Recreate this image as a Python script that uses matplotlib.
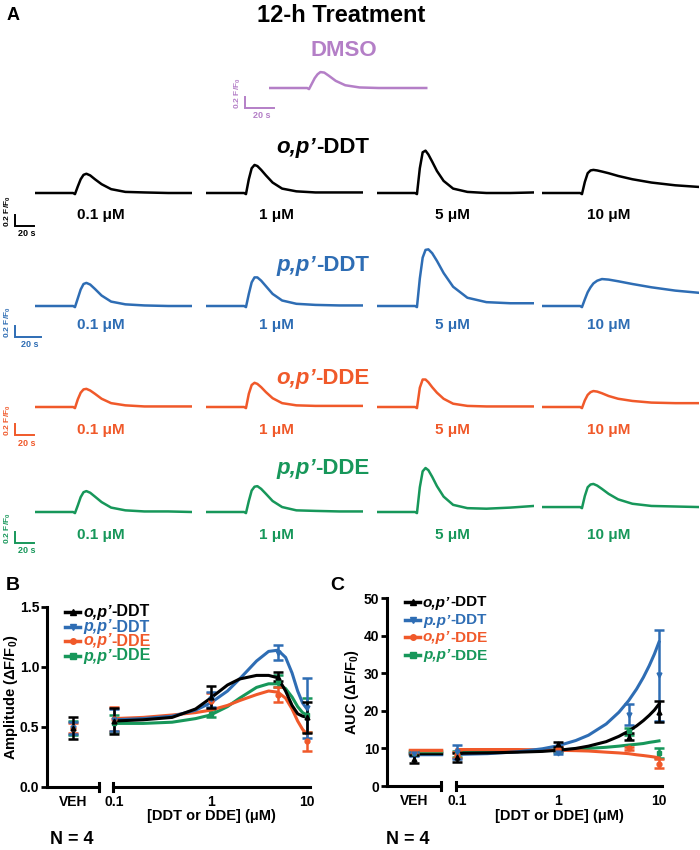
import matplotlib
matplotlib.use("Agg")
import matplotlib.pyplot as plt

plt.rcParams['font.family'] = ['Liberation Sans', 'DejaVu Sans']
plt.rcParams['font.weight'] = 'bold'
plt.rcParams['mathtext.default'] = 'regular'

W, H = 700, 850
fig = plt.figure(figsize=(7, 8.5), dpi=100)

BLACK = '#000000'
BLUE = '#2e6db4'
ORANGE = '#f0592a'
GREEN = '#17975a'
PURPLE = '#b47fc7'

# ---- calcium traces (dF/F0 vs time in s) ----
t_trace = [0, 40, 42, 45, 48, 51, 54, 58, 63, 70, 80, 95, 115, 140, 165]

dmso_trace = [0, 0, -0.02, 0.08, 0.18, 0.25, 0.29, 0.28, 0.22, 0.13, 0.05, 0.01, 0.0, 0.0, 0.0]

opDDT_traces = [
    [0, 0, -0.02, 0.12, 0.25, 0.33, 0.35, 0.32, 0.25, 0.16, 0.07, 0.02, 0.01, 0.0, 0.0],
    [0, 0, -0.02, 0.25, 0.45, 0.51, 0.49, 0.42, 0.32, 0.19, 0.08, 0.03, 0.01, 0.01, 0.01],
    [0, 0, -0.02, 0.45, 0.74, 0.77, 0.70, 0.57, 0.40, 0.22, 0.08, 0.02, 0.0, 0.0, 0.01],
    [0, 0, -0.02, 0.20, 0.36, 0.41, 0.42, 0.41, 0.39, 0.36, 0.31, 0.25, 0.19, 0.14, 0.11],
]
ppDDT_traces = [
    [0, 0, -0.02, 0.14, 0.30, 0.40, 0.42, 0.39, 0.31, 0.19, 0.08, 0.03, 0.01, 0.0, 0.0],
    [0, 0, -0.02, 0.22, 0.43, 0.52, 0.52, 0.46, 0.36, 0.22, 0.10, 0.04, 0.02, 0.01, 0.01],
    [0, 0, -0.02, 0.50, 0.88, 1.02, 1.03, 0.96, 0.82, 0.60, 0.35, 0.15, 0.07, 0.05, 0.05],
    [0, 0, -0.02, 0.12, 0.25, 0.34, 0.41, 0.46, 0.49, 0.48, 0.45, 0.40, 0.34, 0.28, 0.24],
]
opDDE_traces = [
    [0, 0, -0.02, 0.14, 0.26, 0.32, 0.33, 0.30, 0.24, 0.15, 0.07, 0.03, 0.01, 0.01, 0.01],
    [0, 0, -0.02, 0.24, 0.40, 0.44, 0.42, 0.36, 0.27, 0.16, 0.07, 0.03, 0.02, 0.02, 0.02],
    [0, 0, -0.02, 0.35, 0.50, 0.50, 0.45, 0.36, 0.26, 0.15, 0.06, 0.02, 0.01, 0.01, 0.01],
    [0, 0, -0.02, 0.12, 0.22, 0.27, 0.29, 0.28, 0.25, 0.20, 0.15, 0.11, 0.08, 0.07, 0.07],
]
ppDDE_traces = [
    [0, 0, -0.02, 0.12, 0.27, 0.36, 0.38, 0.35, 0.28, 0.18, 0.08, 0.03, 0.01, 0.01, 0.0],
    [0, 0, -0.02, 0.20, 0.39, 0.46, 0.47, 0.42, 0.33, 0.20, 0.09, 0.03, 0.02, 0.01, 0.01],
    [0, 0, -0.02, 0.45, 0.74, 0.80, 0.76, 0.64, 0.47, 0.28, 0.13, 0.07, 0.06, 0.08, 0.11],
    [0.09, 0.09, 0.07, 0.29, 0.45, 0.50, 0.51, 0.48, 0.42, 0.33, 0.23, 0.15, 0.11, 0.10, 0.09],
]
conc_labels = ['0.1 \u03bcM', '1 \u03bcM', '5 \u03bcM', '10 \u03bcM']

# ---- dose-response data ----
conc = [0.1, 1, 5, 10]
fit_x = [0.1, 0.2, 0.4, 0.7, 1, 1.5, 2, 3, 4, 5, 6, 7, 8, 9, 10]

amp_veh = [0.49, 0.49, 0.49, 0.49]
amp_veh_err = [0.09, 0.05, 0.04, 0.06]
amp_opDDT = [0.55, 0.75, 0.92, 0.58]
amp_opDDT_err = [0.11, 0.09, 0.04, 0.13]
amp_ppDDT = [0.56, 0.73, 1.12, 0.66]
amp_ppDDT_err = [0.09, 0.06, 0.06, 0.25]
amp_opDDE = [0.57, 0.72, 0.77, 0.38]
amp_opDDE_err = [0.10, 0.06, 0.06, 0.08]
amp_ppDDE = [0.53, 0.61, 0.88, 0.60]
amp_ppDDE_err = [0.07, 0.03, 0.05, 0.14]
fitB_opDDT = [0.55, 0.56, 0.58, 0.65, 0.74, 0.85, 0.90, 0.93, 0.93, 0.91, 0.80, 0.68, 0.61, 0.59, 0.58]
fitB_ppDDT = [0.56, 0.57, 0.59, 0.64, 0.70, 0.80, 0.90, 1.05, 1.13, 1.14, 1.08, 0.95, 0.80, 0.70, 0.65]
fitB_opDDE = [0.57, 0.58, 0.60, 0.62, 0.64, 0.68, 0.72, 0.77, 0.80, 0.79, 0.74, 0.65, 0.55, 0.48, 0.44]
fitB_ppDDE = [0.53, 0.53, 0.54, 0.57, 0.60, 0.67, 0.74, 0.83, 0.86, 0.86, 0.82, 0.75, 0.67, 0.62, 0.60]

auc_veh = [7.1, 8.5, 9.0, 8.8]
auc_veh_err = [1.1, 0.5, 0.5, 0.5]
auc_opDDT = [7.6, 11.1, 13.1, 19.8]
auc_opDDT_err = [1.1, 0.7, 0.9, 2.7]
auc_ppDDT = [9.0, 8.9, 19.0, 29.4]
auc_ppDDT_err = [1.9, 0.5, 2.9, 12.1]
auc_opDDE = [8.3, 9.8, 10.0, 5.9]
auc_opDDE_err = [0.8, 0.6, 0.5, 1.2]
auc_ppDDE = [8.5, 9.5, 14.5, 8.8]
auc_ppDDE_err = [0.7, 0.5, 0.9, 1.4]
fitC_opDDT = [8.7, 8.8, 9.0, 9.2, 9.5, 10.0, 10.6, 11.8, 13.2, 14.6, 16.0, 17.4, 18.8, 20.2, 21.8]
fitC_ppDDT = [8.4, 8.6, 9.1, 9.9, 10.7, 12.1, 13.5, 16.5, 19.6, 22.7, 25.8, 28.9, 32.0, 35.1, 38.3]
fitC_opDDE = [9.7, 9.7, 9.7, 9.6, 9.5, 9.4, 9.3, 9.0, 8.8, 8.6, 8.3, 8.1, 7.9, 7.7, 7.5]
fitC_ppDDE = [9.3, 9.3, 9.4, 9.5, 9.6, 9.8, 10.0, 10.3, 10.6, 10.9, 11.1, 11.3, 11.6, 11.8, 12.0]

PX = 0.2 / 11.0   # dF/F0 per pixel in the trace panels


def px_axes(x0, y0, x1, y1):
    return fig.add_axes([x0 / W, 1 - y1 / H, (x1 - x0) / W, (y1 - y0) / H])


def trace_row(traces, color, base, starts, width=157, tmax=165):
    axs = []
    for x0, y in zip(starts, traces):
        ax = px_axes(x0, base - 1.25 / PX, x0 + width, base + 0.25 / PX)
        ax.plot(t_trace, y, color=color, lw=1.8)
        ax.set_xlim(0, tmax)
        ax.set_ylim(-0.25, 1.25)
        ax.axis('off')
        axs.append(ax)
    return axs


def scale_bar(ax, color, ybot, x0=-21, xlen=20):
    ax.plot([x0, x0, x0 + xlen], [ybot + 0.2, ybot, ybot], color=color, lw=1.4,
            clip_on=False, solid_joinstyle='miter')
    ax.annotate('0.2 F/F$_0$', (x0, ybot), xytext=(-1.8, -1), textcoords='offset points',
                rotation=90, ha='right', va='bottom', fontsize=6, color=color,
                annotation_clip=False)
    ax.annotate('20 s', (x0 + xlen / 2 + 2, ybot), xytext=(0, -2.5), textcoords='offset points',
                ha='center', va='top', fontsize=6.5, color=color, annotation_clip=False)


renderer = fig.canvas.get_renderer()


def mixed_text(x, ybase, ital, rest, color, size, align='center'):
    a = fig.text(0, 0, ital, fontsize=size, style='italic', color=color, va='baseline')
    b = fig.text(0, 0, rest, fontsize=size, color=color, va='baseline')
    wa = a.get_window_extent(renderer).width
    wb = b.get_window_extent(renderer).width
    x0 = x - (wa + wb) / 2 if align == 'center' else x
    a.set_position((x0 / W, 1 - ybase / H))
    b.set_position(((x0 + wa) / W, 1 - ybase / H))


# ---------------- panel A ----------------
fig.text(13 / W, 1 - 15 / H, 'A', fontsize=13, ha='center', va='center')
fig.text(341 / W, 1 - 15 / H, '12-h Treatment', fontsize=17, ha='center', va='center')
fig.text(344 / W, 1 - 51 / H, 'DMSO', fontsize=16, ha='center', va='center', color=PURPLE)

ax_d = trace_row([dmso_trace], PURPLE, 88, [269], width=162, tmax=170)[0]
scale_bar(ax_d, PURPLE, -0.36, x0=-25, xlen=30)

starts = [35, 206, 377, 542]
rows = [
    (opDDT_traces, BLACK, 193, 'o,p\u2019', '-DDT', 145, -0.60, 215, 20),
    (ppDDT_traces, BLUE, 306, 'p,p\u2019', '-DDT', 263, -0.56, 325, 27),
    (opDDE_traces, ORANGE, 407, 'o,p\u2019', '-DDE', 376, -0.51, 430, 20),
    (ppDDE_traces, GREEN, 512, 'p,p\u2019', '-DDE', 466, -0.56, 535, 20),
]
label_x = [101, 276, 452, 609]
for traces, col, base, ital, rest, ty, sb, ly, bl in rows:
    axs = trace_row(traces, col, base, starts)
    scale_bar(axs[0], col, sb, xlen=bl)
    mixed_text(323, ty + 8, ital, rest, col, 16)
    for lx, lab in zip(label_x, conc_labels):
        fig.text(lx / W, 1 - ly / H, lab, fontsize=11, ha='center', va='center', color=col)


# ---------------- panels B and C ----------------
def dose_panel(left, veh_right, log_left, log_right, top, bottom, xlim_log, ymax, yticks, yticklabels):
    axv = px_axes(left, top, veh_right, bottom)
    axl = px_axes(log_left, top, log_right, bottom)
    axl.set_xscale('log')
    axl.set_xlim(*xlim_log)
    axv.set_xlim(0, 1)
    for a in (axv, axl):
        a.set_ylim(0, ymax)
        a.spines['top'].set_visible(False)
        a.spines['right'].set_visible(False)
        a.spines['bottom'].set_linewidth(2.2)
        a.patch.set_visible(False)
        a.tick_params(axis='x', length=0, labelsize=10, pad=6)
    axl.spines['left'].set_visible(False)
    axl.tick_params(axis='y', left=False, labelleft=False)
    axv.spines['left'].set_linewidth(2.2)
    axv.set_yticks(yticks)
    axv.set_yticklabels(yticklabels)
    axv.tick_params(axis='y', width=2, length=4, labelsize=10, pad=1.5)
    axv.set_xticks([0.5])
    axv.set_xticklabels(['VEH'])
    axl.set_xticks([0.1, 1, 10])
    axl.set_xticklabels(['0.1', '1', '10'])
    axl.minorticks_off()
    c = 4.0 / (bottom - top)
    axv.plot([1, 1], [-c, c], transform=axv.transAxes, color='k', lw=2.2, clip_on=False)
    axl.plot([0, 0], [-c, c], transform=axl.transAxes, color='k', lw=2.2, clip_on=False)
    return axv, axl


def series(axv, axl, veh, veh_err, vals, err, fit, color, marker):
    kw = dict(color=color, ms=3.5, capsize=3.5, elinewidth=1.8, capthick=1.8, clip_on=False)
    axv.errorbar([0.5], [veh], yerr=[veh_err], fmt=marker, **kw)
    axl.plot(fit_x, fit, color=color, lw=2.2, clip_on=False)
    axl.errorbar(conc, vals, yerr=err, fmt=marker, **kw)


def legend(x, ys, labels, colors, markers, size):
    for y, (ital, rest), col, m in zip(ys, labels, colors, markers):
        ln = plt.Line2D([x / W, (x + 15) / W], [1 - y / H, 1 - y / H], color=col, lw=2.5,
                        transform=fig.transFigure)
        fig.add_artist(ln)
        mk = plt.Line2D([(x + 7.5) / W], [1 - y / H], color=col, marker=m, ms=4,
                        transform=fig.transFigure)
        fig.add_artist(mk)
        mixed_text(x + 18, y + 4.5, ital, rest, col, size, align='left')


colors = [GREEN, ORANGE, BLUE, BLACK]
markers = ['s', 'o', 'v', '^']

# B
bv, bl = dose_panel(47, 99, 113, 310, 607, 787, (0.0976, 10.74), 1.5,
                    [0, 0.5, 1.0, 1.5], ['0.0', '0.5', '1.0', '1.5'])
for veh, ve, v, e, f, col, m in zip(
        [amp_veh[3], amp_veh[2], amp_veh[1], amp_veh[0]],
        [amp_veh_err[3], amp_veh_err[2], amp_veh_err[1], amp_veh_err[0]],
        [amp_ppDDE, amp_opDDE, amp_ppDDT, amp_opDDT],
        [amp_ppDDE_err, amp_opDDE_err, amp_ppDDT_err, amp_opDDT_err],
        [fitB_ppDDE, fitB_opDDE, fitB_ppDDT, fitB_opDDT], colors, markers):
    series(bv, bl, veh, ve, v, e, f, col, m)
fig.text(11 / W, 1 - 697 / H, 'Amplitude (\u0394F/F$_0$)', fontsize=10.5, rotation=90,
         ha='center', va='center')
fig.text(211 / W, 1 - 816 / H, '[DDT or DDE] (\u03bcM)', fontsize=10.5, ha='center', va='center')
fig.text(13 / W, 1 - 585 / H, 'B', fontsize=14, ha='center', va='center')
fig.text(72 / W, 1 - 840 / H, 'N = 4', fontsize=13, ha='center', va='center')
legend(65, [612, 627, 641, 656],
       [('o,p\u2019', '-DDT'), ('p,p\u2019', '-DDT'), ('o,p\u2019', '-DDE'), ('p,p\u2019', '-DDE')],
       [BLACK, BLUE, ORANGE, GREEN], ['^', 'v', 'o', 's'], 11.5)

# C
cv, cl = dose_panel(387, 441, 456, 662, 598, 786, (0.0977, 10.7), 50,
                    [0, 10, 20, 30, 40, 50], ['0', '10', '20', '30', '40', '50'])
for fit, col in zip([fitC_ppDDT, fitC_opDDT, fitC_ppDDE, fitC_opDDE], [BLUE, BLACK, GREEN, ORANGE]):
    cv.plot([0.43, 1], [fit[0], fit[0]], color=col, lw=2.5, clip_on=False)
for veh, ve, v, e, f, col, m in zip(
        [auc_veh[3], auc_veh[2], auc_veh[1], auc_veh[0]],
        [auc_veh_err[3], auc_veh_err[2], auc_veh_err[1], auc_veh_err[0]],
        [auc_ppDDE, auc_opDDE, auc_ppDDT, auc_opDDT],
        [auc_ppDDE_err, auc_opDDE_err, auc_ppDDT_err, auc_opDDT_err],
        [fitC_ppDDE, fitC_opDDE, fitC_ppDDT, fitC_opDDT], colors, markers):
    series(cv, cl, veh, ve, v, e, f, col, m)
fig.text(352 / W, 1 - 692 / H, 'AUC (\u0394F/F$_0$)', fontsize=10.5, rotation=90,
         ha='center', va='center')
fig.text(559 / W, 1 - 816 / H, '[DDT or DDE] (\u03bcM)', fontsize=10.5, ha='center', va='center')
fig.text(337 / W, 1 - 585 / H, 'C', fontsize=14, ha='center', va='center')
fig.text(408 / W, 1 - 840 / H, 'N = 4', fontsize=13, ha='center', va='center')
legend(405, [602, 620, 637, 655],
       [('o,p\u2019', '-DDT'), ('p.p\u2019', '-DDT'), ('o,p\u2019', '-DDE'), ('p,p\u2019', '-DDE')],
       [BLACK, BLUE, ORANGE, GREEN], ['^', 'v', 'o', 's'], 11)

fig.savefig('out.png', dpi=100)
